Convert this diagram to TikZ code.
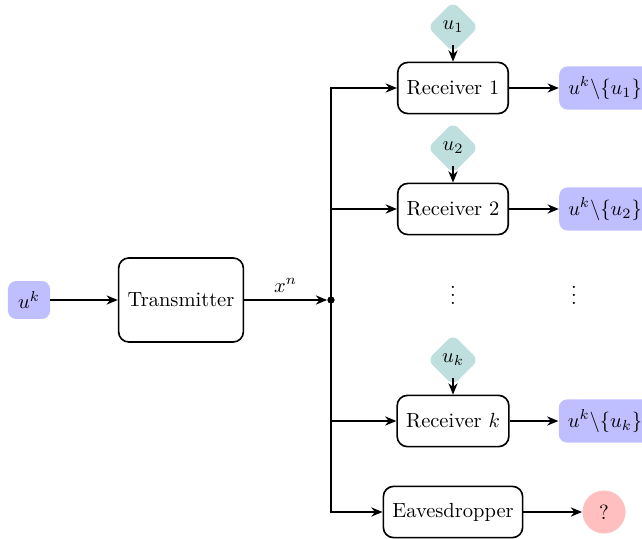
\documentclass[tikz,border=0pt]{standalone}
\usetikzlibrary{shapes.geometric,arrows.meta}
\begin{document}
\begin{tikzpicture}[x=0.4878pt,y=-0.4878pt,
  block/.style={draw,thick,rounded corners=5pt,minimum height=25pt,inner xsep=4.4pt},
  keynode/.style={diamond,fill=teal!25,rounded corners=3.5pt,inner sep=0pt,minimum width=25pt,minimum height=25pt},
  msg/.style={fill=blue!25,rounded corners=4pt,minimum height=21pt,inner xsep=4.4pt},
  conn/.style={thick,-{Stealth[length=5.5pt,width=4.5pt]}},
  keyconn/.style={conn,shorten <=-4pt},
]
\useasboundingbox (0,0) rectangle (642,538);
% nodes
\node[msg,minimum width=20.5pt,minimum height=18.5pt] (uk) at (29,300) {$u^k$};
\node[block,minimum width=60.5pt,minimum height=41pt] (tx) at (181,300) {Transmitter};
\node[circle,fill=black,inner sep=0pt,minimum size=3.4pt] (dot) at (331,300) {};
\node[block] (r1) at (453,88) {Receiver 1};
\node[block] (r2) at (453,209) {Receiver 2};
\node[block] (rk) at (453,421) {Receiver $k$};
\node[block] (ev) at (453,512) {Eavesdropper};
\node[keynode] (k1) at (453,27) {$u_1$};
\node[keynode] (k2) at (453,148) {$u_2$};
\node[keynode] (kk) at (453,360) {$u_k$};
\node[msg] (o1) at (605,88) {$u^k\backslash\{u_1\}$};
\node[msg] (o2) at (605,209) {$u^k\backslash\{u_2\}$};
\node[msg] (ok) at (605,421) {$u^k\backslash\{u_k\}$};
\node[circle,fill=red!25,minimum size=21pt,inner sep=0pt] (q) at (604,512) {?};
\node (d1) at (453,289) {$\vdots$};
\node (d2) at (574,289) {$\vdots$};
% connectors
\draw[conn] (uk) -- (tx);
\draw[conn] (tx) -- node[above] (xn) {$x^n$} (dot);
\draw[conn] (dot.center) |- (r1);
\draw[conn] (dot.center) |- (r2);
\draw[conn] (dot.center) |- (rk);
\draw[conn] (dot.center) |- (ev);
\node[circle,fill=black,inner sep=0pt,minimum size=3.4pt] at (dot) {};
\draw[keyconn] (k1) -- (r1);
\draw[keyconn] (k2) -- (r2);
\draw[keyconn] (kk) -- (rk);
\draw[conn] (r1) -- (o1);
\draw[conn] (r2) -- (o2);
\draw[conn] (rk) -- (ok);
\draw[conn] (ev) -- (q);
\end{tikzpicture}
\end{document}
